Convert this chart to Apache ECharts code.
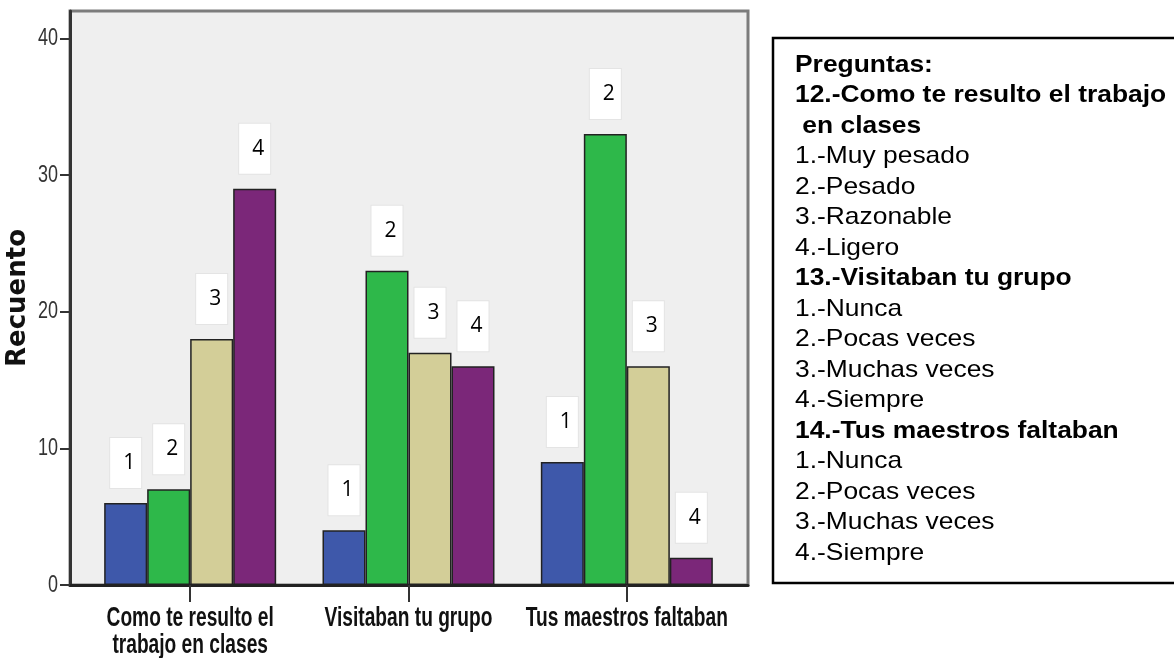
<!DOCTYPE html>
<html>
<head>
<meta charset="utf-8">
<script src="https://cdn.jsdelivr.net/npm/echarts@6/dist/echarts.min.js"></script>
<style>
  html, body { margin: 0; padding: 0; background: #fff; }
  #chart { width: 1174px; height: 658px; }
</style>
</head>
<body>
<div id="chart"></div>
<script>
// categorías (preguntas 12, 13, 14)
const categories = ['Como te resulto el\ntrabajo en clases', 'Visitaban tu grupo', 'Tus maestros faltaban']
// recuento por opción de respuesta
const opcion1 = [6, 4, 9]
const opcion2 = [7, 23, 33]
const opcion3 = [18, 17, 16]
const opcion4 = [29, 16, 2]
const yTicks = [0, 10, 20, 30, 40]

// texto del recuadro de la derecha
const leyenda = [
  ['b', 'Preguntas:'],
  ['b', '12.-Como te resulto el trabajo'],
  ['b', ' en clases'],
  ['n', '1.-Muy pesado'],
  ['n', '2.-Pesado'],
  ['n', '3.-Razonable'],
  ['n', '4.-Ligero'],
  ['b', '13.-Visitaban tu grupo'],
  ['n', '1.-Nunca'],
  ['n', '2.-Pocas veces'],
  ['n', '3.-Muchas veces'],
  ['n', '4.-Siempre'],
  ['b', '14.-Tus maestros faltaban'],
  ['n', '1.-Nunca'],
  ['n', '2.-Pocas veces'],
  ['n', '3.-Muchas veces'],
  ['n', '4.-Siempre']
]

const colores = ['#3e58aa', '#2eb84a', '#d3ce98', '#7b2779']
const arial = "'Liberation Sans', Arial, sans-serif"

const chart = echarts.init(document.getElementById('chart'))

function serie(nombre, datos, color) {
  return {
    name: nombre,
    type: 'bar',
    xAxisIndex: 0,
    yAxisIndex: 0,
    data: datos,
    barWidth: 43,
    barGap: '0%',
    itemStyle: { color: color, borderColor: '#222', borderWidth: 1.5 },
    label: {
      show: true,
      position: 'top',
      distance: 15,
      formatter: nombre,
      color: '#000',
      fontFamily: "'Open Sans', sans-serif",
      fontSize: 21,
      lineHeight: 22,
      backgroundColor: '#fff',
      borderColor: '#e4e4e4',
      borderWidth: 1,
      padding: [14, 6, 14, 13]
    }
  }
}

const option = {
  animation: false,
  backgroundColor: '#fff',
  grid: [
    { left: 81, right: 438, top: 11, bottom: 73, outerBoundsMode: 'none' },
    {
      left: 70, right: 426, top: 11, bottom: 73, outerBoundsMode: 'none',
      show: true, backgroundColor: '#efefef', borderColor: '#7c7c7c', borderWidth: 3
    }
  ],
  xAxis: [
    {
      type: 'category',
      gridIndex: 0,
      data: categories,
      axisLine: { show: false },
      axisTick: { show: true, alignWithLabel: true, length: 17, lineStyle: { color: '#333', width: 2 } },
      axisLabel: { show: false },
      splitLine: { show: false }
    },
    {
      type: 'value',
      gridIndex: 1,
      min: 0,
      max: 1,
      axisLine: { show: true, lineStyle: { color: '#222', width: 3 } },
      axisTick: { show: false },
      axisLabel: { show: false },
      splitLine: { show: false }
    }
  ],
  yAxis: [
    {
      type: 'value',
      gridIndex: 0,
      min: 0,
      max: 42,
      show: false
    },
    {
      type: 'value',
      gridIndex: 1,
      min: 0,
      max: 42,
      name: 'Recuento',
      nameLocation: 'middle',
      nameGap: 39,
      nameTextStyle: {
        fontFamily: "'DejaVu Sans', sans-serif",
        fontWeight: 'bold',
        fontSize: 26,
        color: '#111'
      },
      axisLine: { show: true, lineStyle: { color: '#333', width: 3 } },
      axisTick: { show: true, length: 10, customValues: yTicks, lineStyle: { color: '#333', width: 2 } },
      axisLabel: { show: false },
      splitLine: { show: false }
    }
  ],
  series: [
    serie('1', opcion1, colores[0]),
    serie('2', opcion2, colores[1]),
    serie('3', opcion3, colores[2]),
    serie('4', opcion4, colores[3])
  ]
}

chart.setOption(option)

// textos estrechos de los ejes (la fuente original es tipo Arial Narrow),
// colocados con las escalas de la propia gráfica
const textosEje = []
categories.forEach((c, i) => {
  const p = chart.convertToPixel({ gridIndex: 0 }, [i, 0])
  textosEje.push({
    type: 'text',
    x: p[0],
    y: p[1] + 20,
    scaleX: 0.71,
    style: {
      text: c,
      align: 'center',
      verticalAlign: 'top',
      fill: '#111',
      fontFamily: arial,
      fontWeight: 'bold',
      fontSize: 27,
      lineHeight: 27
    }
  })
})
yTicks.forEach(v => {
  const p = chart.convertToPixel({ gridIndex: 1 }, [0, v])
  textosEje.push({
    type: 'text',
    x: p[0] - 12,
    y: p[1],
    scaleX: 0.75,
    style: {
      text: String(v),
      align: 'right',
      verticalAlign: 'middle',
      fill: '#333',
      fontFamily: arial,
      fontSize: 24
    }
  })
})

chart.setOption({
  graphic: [
    {
      type: 'rect',
      shape: { x: 773, y: 38, width: 440, height: 545 },
      style: { fill: '#fff', stroke: '#000', lineWidth: 2.5 }
    },
    {
      type: 'text',
      x: 795,
      y: 50,
      scaleX: 1.1,
      style: {
        text: leyenda.map(l => '{' + l[0] + '|' + l[1] + '}').join('\n'),
        fill: '#000',
        rich: {
          b: { fontFamily: arial, fontWeight: 'bold', fontSize: 24, lineHeight: 30.5 },
          n: { fontFamily: arial, fontSize: 24, lineHeight: 30.5 }
        }
      }
    }
  ].concat(textosEje)
})
</script>
</body>
</html>
